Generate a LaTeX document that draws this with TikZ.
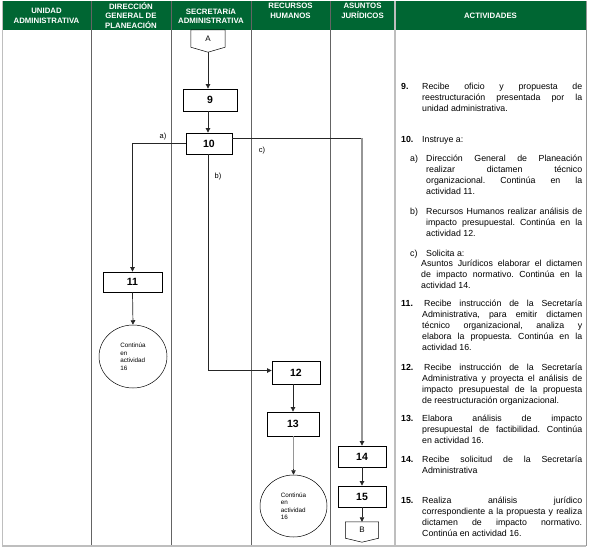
\documentclass[tikz,border=0pt]{standalone}
\usepackage{fontspec}
\setmainfont{Liberation Sans}
\usetikzlibrary{arrows.meta,shapes.geometric}
\definecolor{hdrgreen}{RGB}{0,102,51}
\definecolor{sepgray}{RGB}{100,100,100}
\definecolor{lightline}{RGB}{190,190,190}
\definecolor{midline}{RGB}{150,150,150}
\tolerance=9999 \hyphenpenalty=10000 \emergencystretch=4pt
\frenchspacing
\begin{document}
\begin{tikzpicture}[x=1pt,y=-1pt,
  hdr/.style={text=white,font=\fontsize{7.8}{9.6}\selectfont\bfseries,align=center,inner sep=0},
  stepbox/.style={draw,line width=0.8pt,inner sep=0,font=\fontsize{10.5}{12}\selectfont\bfseries},
  endcirc/.style={draw,ellipse,line width=0.5pt,minimum width=68pt,minimum height=63pt,inner sep=0,align=left,font=\fontsize{6.3}{7.5}\selectfont},
  conn/.style={draw=black!85,line width=0.7pt},
  arr/.style={conn,-{Triangle[length=4.5pt,width=4.5pt]}},
  grayconn/.style={draw=midline,line width=1.2pt},
  lbl/.style={inner sep=0,font=\fontsize{7.5}{9}\selectfont},
  actnum/.style={anchor=base west,inner sep=0,font=\fontsize{8.8}{11}\selectfont\bfseries},
  acttxt/.style={anchor=base west,inner sep=0,text width=#1,align=justify,font=\fontsize{8.8}{11}\selectfont},
  acttxt/.default=160pt
]
\useasboundingbox (0,0) rectangle (590,550);
% header
\fill[hdrgreen] (2,1) rectangle (586,30);
% table lines
\foreach \xx in {91,171,251,330}
  \draw[sepgray,line width=0.8pt] (\xx,1) -- (\xx,546);
\draw[lightline,line width=1.8pt] (395,1) -- (395,546);
\draw[lightline,line width=1.6pt] (2.5,1) -- (2.5,546);
\draw[midline,line width=1pt] (586,1) -- (586,546);
\draw[lightline,line width=1.6pt] (2,546) -- (586,546);
% header texts
\node[hdr] (h1) at (46.5,16) {UNIDAD\\ADMINISTRATIVA};
\node[hdr] (h2) at (131,15.5) {DIRECCIÓN\\GENERAL DE\\PLANEACIÓN};
\node[hdr] (h3) at (211,16) {SECRETARíA\\ADMINISTRATIVA};
\node[hdr] (h4) at (290.5,11) {RECURSOS\\HUMANOS};
\node[hdr] (h5) at (362.5,11) {ASUNTOS\\JURÍDICOS};
\node[hdr] (h6) at (490.5,15.5) {ACTIVIDADES};
% off-page connector A
\node[minimum width=34pt,minimum height=22pt,inner sep=0] (A) at (208,41) {};
\draw[line width=0.5pt] (A.north west) -- (A.north east) -- ([yshift=5pt]A.south east) -- (A.south) -- ([yshift=5pt]A.south west) -- cycle;
\node[lbl,font=\fontsize{8}{9}\selectfont] (Alab) at ([yshift=2.5pt]A.center) {A};
% boxes
\node[stepbox,minimum width=54pt,minimum height=22pt] (s9) at (210,100) {9};
\node[stepbox,minimum width=46pt,minimum height=21pt] (s10) at (209,143.5) {10};
\node[stepbox,minimum width=59pt,minimum height=20pt] (s11) at (132.5,282) {11};
\node[stepbox,minimum width=48pt,minimum height=23pt] (s12) at (296,372.5) {12};
\node[stepbox,minimum width=52pt,minimum height=24pt] (s13) at (293,424) {13};
\node[stepbox,minimum width=48pt,minimum height=21pt] (s14) at (362,456.5) {14};
\node[stepbox,minimum width=48pt,minimum height=21pt] (s15) at (362,496.5) {15};
% end circles
\node[endcirc] (e1) at (133,356.5) {Continúa\\en\\actividad\\16};
\node[endcirc,minimum width=67pt,minimum height=62pt] (e2) at (293.5,506) {Continúa\\en\\actividad\\16};
% off-page connector B
\node[minimum width=33pt,minimum height=20pt,inner sep=0] (B) at (362,532) {};
\draw[line width=0.5pt] (B.north west) -- (B.north east) -- ([yshift=4pt]B.south east) -- (B.south) -- ([yshift=4pt]B.south west) -- cycle;
\node[lbl,font=\fontsize{8}{9}\selectfont] (Blab) at ([yshift=2pt]B.center) {B};
% connectors
\draw[arr] (A.south) -- (A.south |- s9.north);
\draw[arr] (s9.south -| A.south) -- (s10.north -| A.south);
\draw[arr] (s10.west) -| (s11.north);
\coordinate (c1) at ([yshift=5.5pt]s10.east -| s14.north);
\draw[conn] ([yshift=5.5pt]s10.east) -- (c1);
\draw[grayconn] (c1) -- ([yshift=4.5pt]s14.north);
\draw[arr] ([yshift=5pt]s14.north) -- (s14.north);
\draw[arr] (s10.south -| A.south) |- ([yshift=2pt]s12.west);
\draw[arr] (s11.south) -- (e1.north);
\draw[arr] (s12.south -| s13.north) -- (s13.north);
\draw[grayconn] (s13.south -| e2.north) -- ([yshift=5pt]e2.north);
\draw[arr] ([yshift=5.5pt]e2.north) -- (e2.north);
\draw[arr] (s14.south) -- (s15.north);
\draw[arr] (s15.south) -- (B.north);
% branch labels
\node[lbl] (la) at (163,137) {a)};
\node[lbl] (lb) at (218,177) {b)};
\node[lbl] (lc) at (262,151) {c)};
% activities
\node[actnum] (n9) at (401,89.5) {9.};
\node[acttxt] (t9) at (422,89.5) {Recibe oficio y propuesta de\linebreak reestructuración presentada por la\linebreak unidad administrativa.};
\node[actnum] (n10) at (401,142) {10.};
\node[acttxt] (t10) at (422,142) {Instruye a:};
\node[lbl,anchor=base west,font=\fontsize{8.8}{11}\selectfont] (la2) at (410,161) {a)};
\node[acttxt=156pt] (ta) at (426,161) {Dirección General de Planeación\linebreak realizar dictamen técnico\linebreak organizacional. Continúa en la\linebreak actividad 11.};
\node[lbl,anchor=base west,font=\fontsize{8.8}{11}\selectfont] (lb2) at (410,214) {b)};
\node[acttxt=156pt] (tb) at (426,214) {Recursos Humanos realizar análisis de\linebreak impacto presupuestal. Continúa en la\linebreak actividad 12.};
\node[lbl,anchor=base west,font=\fontsize{8.8}{11}\selectfont] (lc2) at (410,256) {c)};
\node[acttxt=156pt] (tc) at (426,256) {Solicita a:};
\node[acttxt=161pt] (tc2) at (421,266) {Asuntos Jurídicos elaborar el dictamen\linebreak de impacto normativo. Continúa en la\linebreak actividad 14.};
\node[actnum] (n11) at (401,306) {11.};
\node[acttxt] (t11) at (422,306) {\hspace*{2pt}Recibe instrucción de la Secretaría\linebreak Administrativa, para emitir dictamen\linebreak técnico organizacional, analiza y\linebreak elabora la propuesta. Continúa en la\linebreak actividad 16.};
\node[actnum] (n12) at (401,370) {12.};
\node[acttxt] (t12) at (422,370) {\hspace*{2pt}Recibe instrucción de la Secretaría\linebreak Administrativa y proyecta el análisis de\linebreak impacto presupuestal de la propuesta\linebreak de reestructuración organizacional.};
\node[actnum] (n13) at (401,421) {13.};
\node[acttxt] (t13) at (422,421) {Elabora análisis de impacto\linebreak presupuestal de factibilidad. Continúa\linebreak en actividad 16.};
\node[actnum] (n14) at (401,462) {14.};
\node[acttxt] (t14) at (422,462) {Recibe solicitud de la Secretaría\linebreak Administrativa};
\node[actnum] (n15) at (401,503) {15.};
\node[acttxt] (t15) at (422,503) {Realiza análisis jurídico\linebreak correspondiente a la propuesta y realiza\linebreak dictamen de impacto normativo.\linebreak Continúa en actividad 16.};
\end{tikzpicture}
\end{document}
